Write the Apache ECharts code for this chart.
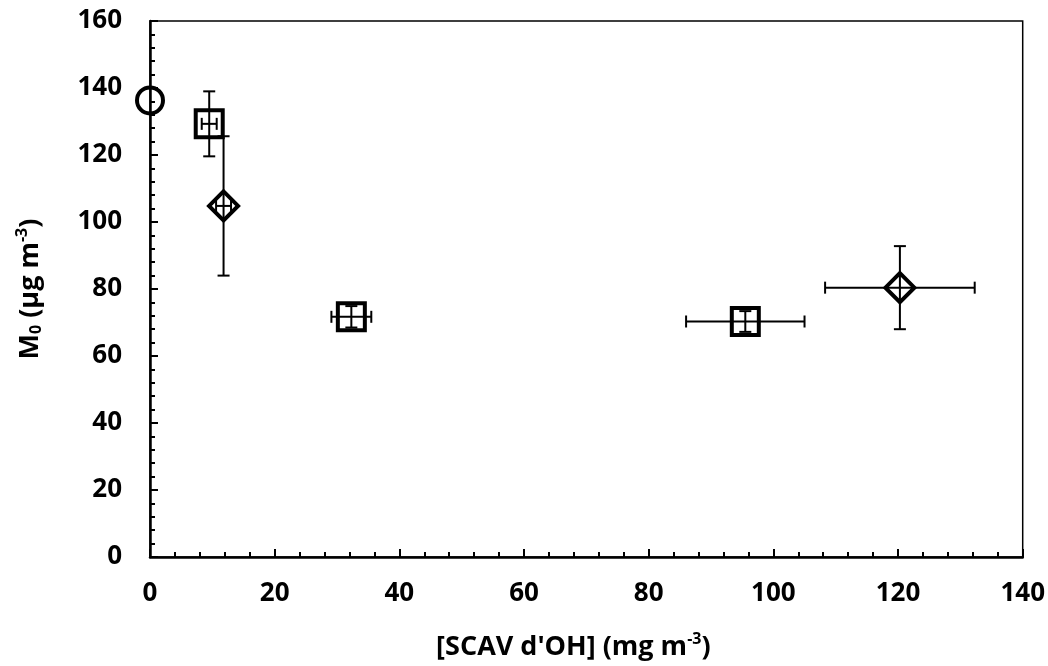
<!DOCTYPE html>
<html>
<head>
<meta charset="utf-8">
<script src="https://cdn.jsdelivr.net/npm/echarts@6/dist/echarts.min.js"></script>
<style>html,body{margin:0;padding:0;background:#fff}#c{width:1048px;height:666px}</style>
</head>
<body>
<div id="c"></div>
<script>
// Data
const circleX = [0];
const circleY = [136.3];

const squareX = [9.5, 32.3, 95.5];
const squareY = [129.3, 71.7, 70.3];
const squareXErr = [1.2, 3.2, 9.5];
const squareYErr = [9.7, 3.2, 3.1];

const diamondX = [11.8, 120.3];
const diamondY = [104.8, 80.4];
const diamondXErr = [1.2, 12.0];
const diamondYErr = [20.8, 12.4];

const xTicks = [0, 20, 40, 60, 80, 100, 120, 140];
const yTicks = [0, 20, 40, 60, 80, 100, 120, 140, 160];

const FONT = 'Open Sans';

function pts(xs, ys) { return xs.map((x, i) => [x, ys[i]]); }
function errPts(xs, ys, xe, ye) { return xs.map((x, i) => [x, ys[i], xe[i], ye[i]]); }

const errData = errPts(squareX, squareY, squareXErr, squareYErr)
  .concat(errPts(diamondX, diamondY, diamondXErr, diamondYErr));

function renderErr(params, api) {
  const x = api.value(0), y = api.value(1), xe = api.value(2), ye = api.value(3);
  const cap = 6;
  const style = { stroke: '#000', lineWidth: 2 };
  const top = api.coord([x, y + ye]);
  const bot = api.coord([x, y - ye]);
  const lft = api.coord([x - xe, y]);
  const rgt = api.coord([x + xe, y]);
  const children = [
    { type: 'line', shape: { x1: top[0], y1: top[1], x2: bot[0], y2: bot[1] }, style },
    { type: 'line', shape: { x1: top[0] - cap, y1: top[1], x2: top[0] + cap, y2: top[1] }, style },
    { type: 'line', shape: { x1: bot[0] - cap, y1: bot[1], x2: bot[0] + cap, y2: bot[1] }, style },
    { type: 'line', shape: { x1: lft[0], y1: lft[1], x2: rgt[0], y2: rgt[1] }, style },
    { type: 'line', shape: { x1: lft[0], y1: lft[1] - cap, x2: lft[0], y2: lft[1] + cap }, style },
    { type: 'line', shape: { x1: rgt[0], y1: rgt[1] - cap, x2: rgt[0], y2: rgt[1] + cap }, style }
  ];
  return { type: 'group', children };
}

const chart = echarts.init(document.getElementById('c'), null, { renderer: 'canvas' });
const markerStyle = { color: 'rgba(0,0,0,0)', borderColor: '#000', borderWidth: 4, opacity: 1 };

const TICK_FS = 26;
const NAME_FS = 27;
const SMALL_FS = 16;

const supStyle = { fontFamily: FONT, fontWeight: 'bold', fontSize: SMALL_FS, color: '#000', lineHeight: 16, verticalAlign: 'top', padding: [4, 0, 0, 0] };

chart.setOption({
  animation: false,
  backgroundColor: '#fff',
  grid: { left: 150, right: 25, top: 21, bottom: 109, show: true, borderColor: '#000', borderWidth: 1.5, backgroundColor: 'transparent' },
  xAxis: {
    type: 'value', min: xTicks[0], max: xTicks[xTicks.length - 1], interval: 20,
    name: '{b|[SCAV d\'OH] (mg m}{sup|-3}{b|)}',
    nameLocation: 'middle', nameGap: 70,
    nameTextStyle: {
      padding: [0, 26, 0, 0],
      rich: {
        b: { fontFamily: FONT, fontWeight: 'bold', fontSize: NAME_FS, color: '#000', lineHeight: 34, verticalAlign: 'bottom' },
        sup: supStyle
      }
    },
    axisLine: { show: true, onZero: false, lineStyle: { color: '#000', width: 2.5 } },
    axisTick: { show: true, inside: true, length: 8, lineStyle: { color: '#000', width: 2 } },
    minorTick: { show: true, splitNumber: 5, length: 5, lineStyle: { color: '#000', width: 2 } },
    splitLine: { show: false },
    axisLabel: { margin: 24, fontFamily: FONT, fontWeight: 'bold', fontSize: TICK_FS, color: '#000' }
  },
  yAxis: {
    type: 'value', min: yTicks[0], max: yTicks[yTicks.length - 1], interval: 20,
    name: '{b|M}{sub|0}{b| (µg m}{sup|-3}{b|)}',
    nameLocation: 'middle', nameGap: 106, nameRotate: 90,
    nameTextStyle: {
      rich: {
        b: { fontFamily: FONT, fontWeight: 'bold', fontSize: NAME_FS, color: '#000', lineHeight: 34, verticalAlign: 'bottom' },
        sub: { fontFamily: FONT, fontWeight: 'bold', fontSize: SMALL_FS, color: '#000', lineHeight: 34, verticalAlign: 'bottom', padding: [6, 0, 0, 0] },
        sup: supStyle
      }
    },
    axisLine: { show: true, onZero: false, lineStyle: { color: '#000', width: 2.5 } },
    axisTick: { show: true, inside: true, length: 8, lineStyle: { color: '#000', width: 2 } },
    minorTick: { show: true, splitNumber: 5, length: 5, lineStyle: { color: '#000', width: 2 } },
    splitLine: { show: false },
    axisLabel: { margin: 28, fontFamily: FONT, fontWeight: 'bold', fontSize: TICK_FS, color: '#000' }
  },
  series: [
    { type: 'custom', renderItem: renderErr, data: errData, clip: false, z: 2 },
    { type: 'scatter', symbol: 'circle', symbolSize: 26, data: pts(circleX, circleY), itemStyle: { color: 'rgba(0,0,0,0)', borderColor: '#000', borderWidth: 4, opacity: 1 }, clip: false, z: 3 },
    { type: 'scatter', symbol: 'rect', symbolSize: 27, data: pts(squareX, squareY), itemStyle: markerStyle, clip: false, z: 3 },
    { type: 'scatter', symbol: 'diamond', symbolSize: 29, data: pts(diamondX, diamondY), itemStyle: markerStyle, clip: false, z: 3 }
  ]
});
</script>
</body>
</html>
